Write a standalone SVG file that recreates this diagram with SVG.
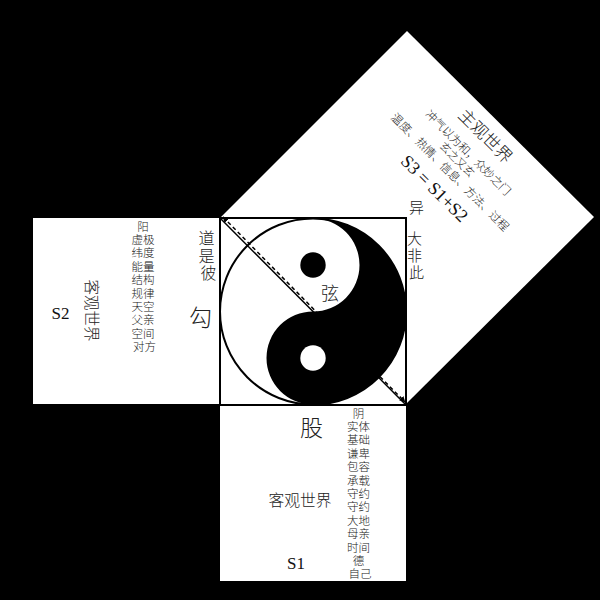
<svg xmlns="http://www.w3.org/2000/svg" width="600" height="600" viewBox="0 0 600 600">
<style>
.t{font-family:"Liberation Serif","Noto Sans CJK SC",serif;fill:#111}
.c{text-anchor:middle}
.l{font-weight:300;fill:#222}
.sq{fill:#fff;stroke:none}
</style>
<defs>
<marker id="ah" viewBox="0 0 10 10" refX="9" refY="5" markerWidth="4" markerHeight="4" orient="auto-start-reverse" markerUnits="strokeWidth">
<path d="M0,0 L10,5 L0,10 Z" fill="#000"/>
</marker>
</defs>
<rect x="0" y="0" width="600" height="600" fill="#000"/>

<g id="square-s3">
<polygon class="sq" points="220,218 407,31 594,217 406,404"/>
<g transform="rotate(45)">
<text class="t c l" x="439.5" y="-241" font-size="17">主观世界</text>
<text class="t c l" x="439" y="-219" font-size="11.5">冲气以为和，众妙之门</text>
<text class="t c l" x="436" y="-206.5" font-size="11">玄之又玄</text>
<text class="t c l" x="440" y="-192.5" font-size="11.5">温度、热情、信息、方法、过程</text>
<text class="t c" x="440.5" y="-168" font-size="18">S3 = S1+S2</text>
</g>
</g>

<g id="square-s2">
<rect class="sq" x="33" y="218" width="187" height="186"/>
<text class="t c" x="60.5" y="318.5" font-size="17">S2</text>
<text class="t c l" transform="translate(86,310.5) rotate(90)" x="0" y="0" font-size="15.5">客观世界</text>
<text class="t c l" font-size="11.5">
<tspan x="144.5" y="230.5">阳</tspan>
<tspan x="144.5" y="243.9">虚极</tspan>
<tspan x="144.5" y="257.3">纬度</tspan>
<tspan x="144.5" y="270.7">能量</tspan>
<tspan x="144.5" y="284.1">结构</tspan>
<tspan x="144.5" y="297.5">规律</tspan>
<tspan x="144.5" y="310.9">天空</tspan>
<tspan x="144.5" y="324.3">父亲</tspan>
<tspan x="144.5" y="337.7">空间</tspan>
<tspan x="144.5" y="351.1">对方</tspan>
</text>
<text class="t c l" font-size="16">
<tspan x="208.5" y="244">道</tspan>
<tspan x="208.5" y="261.5">是</tspan>
<tspan x="208.5" y="279">彼</tspan>
</text>
<text class="t c l" x="200.5" y="326" font-size="23">勾</text>
</g>

<g id="square-s1">
<rect class="sq" x="220" y="405" width="186" height="176"/>
<text class="t c l" x="311.5" y="435.5" font-size="23">股</text>
<text class="t c l" x="300" y="506" font-size="15.8">客观世界</text>
<text class="t c" x="296" y="568.5" font-size="17">S1</text>
<text class="t c l" font-size="11.5">
<tspan x="360" y="417.6">阴</tspan>
<tspan x="360" y="431">实体</tspan>
<tspan x="360" y="444.4">基础</tspan>
<tspan x="360" y="457.8">谦卑</tspan>
<tspan x="360" y="471.2">包容</tspan>
<tspan x="360" y="484.6">承载</tspan>
<tspan x="360" y="498">守约</tspan>
<tspan x="360" y="511.4">守约</tspan>
<tspan x="360" y="524.8">大地</tspan>
<tspan x="360" y="538.2">母亲</tspan>
<tspan x="360" y="551.6">时间</tspan>
<tspan x="360" y="565">德</tspan>
<tspan x="360" y="578.4">自己</tspan>
</text>
</g>

<g id="square-center">
<rect x="220" y="218" width="186" height="187" fill="#fff" stroke="#000" stroke-width="2"/>
<circle cx="313" cy="311.5" r="93" fill="#fff" stroke="#000" stroke-width="2"/>
<path d="M313,218.5 A93,93 0 0 1 313,404.5 A46.5,46.5 0 0 1 313,311.5 A46.5,46.5 0 0 0 313,218.5 Z" fill="#000"/>
<circle cx="313" cy="265" r="12.7" fill="#000"/>
<circle cx="313" cy="358" r="12.7" fill="#fff"/>
<text class="t c l" x="330" y="300" font-size="18">弦</text>
</g>

<g id="labels-right">
<text class="t c l" x="416.5" y="212.5" font-size="15">异</text>
<text class="t c l" font-size="15">
<tspan x="416.5" y="243.5">大</tspan>
<tspan x="416.5" y="260.5">非</tspan>
<tspan x="416.5" y="277.5">此</tspan>
</text>
</g>

<g id="connectors" fill="none" stroke="#000">
<line x1="220" y1="218" x2="406" y2="405" stroke-width="1.5"/>
<line x1="223" y1="217" x2="405" y2="402" stroke-width="1.5" stroke-dasharray="4 3" marker-start="url(#ah)" marker-end="url(#ah)"/>
</g>
</svg>
